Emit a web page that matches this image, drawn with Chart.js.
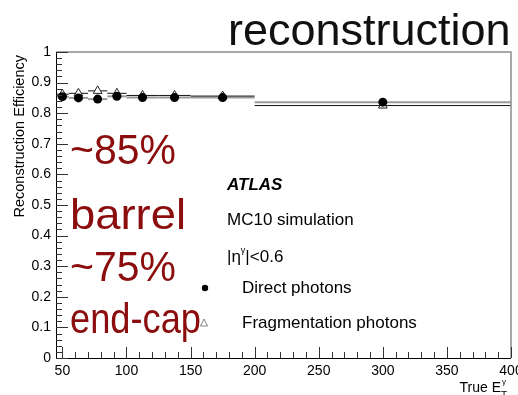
<!DOCTYPE html>
<html>
<head>
<meta charset="utf-8">
<script src="https://cdn.jsdelivr.net/npm/chart.js@4.4.0/dist/chart.umd.min.js"></script>
<style>
  html, body { margin: 0; padding: 0; background: #fff; }
  #wrap { width: 518px; height: 395px; }
</style>
</head>
<body>
<div id="wrap"><canvas id="chart" width="518" height="395"></canvas></div>
<script>
// bins in true photon ET (GeV)
const binCentres = [50, 62.5, 77.5, 92.5, 112.5, 137.5, 175, 300];
const binLow = [45, 55, 70, 85, 100, 125, 150, 200];
const binHigh = [55, 70, 85, 100, 125, 150, 200, 400];

// reconstruction efficiency per bin
const directEff = [0.854, 0.850, 0.846, 0.855, 0.851, 0.851, 0.851, 0.836];
const fragEff = [0.862, 0.865, 0.873, 0.865, 0.858, 0.858, 0.856, 0.825];

// axis ticks
const xTicks = [50, 100, 150, 200, 250, 300, 350, 400];
const yTicks = [0, 0.1, 0.2, 0.3, 0.4, 0.5, 0.6, 0.7, 0.8, 0.9, 1];
const yTickLabels = ['0', '0.1', '0.2', '0.3', '0.4', '0.5', '0.6', '0.7', '0.8', '0.9', '1'];

// overlay text
const bigLines = ['~85%', 'barrel', '~75%', 'end-cap'];
const bigBaselines = [164, 229, 281, 333];
const bigWidths = [106, 116, 106, 131];

const FONT = "'Liberation Sans', Arial, sans-serif";
const RED = '#8b0d0d';

function toPoints(ys) {
    return binCentres.map((x, i) => ({ x: x, y: ys[i] }));
}

// horizontal bin-width bars under the markers
const errorBars = {
    id: 'errorBars',
    beforeDatasetsDraw(chart) {
        const ctx = chart.ctx;
        const xs = chart.scales.x, ys = chart.scales.y;
        ctx.save();
        // direct photons: grey bars
        ctx.strokeStyle = '#9a9a9a';
        ctx.lineWidth = 2;
        directEff.forEach((v, i) => {
            const y = ys.getPixelForValue(v);
            ctx.beginPath();
            ctx.moveTo(xs.getPixelForValue(binLow[i]), y);
            ctx.lineTo(xs.getPixelForValue(binHigh[i]), y);
            ctx.stroke();
        });
        // fragmentation photons: black bars
        ctx.strokeStyle = '#111';
        ctx.lineWidth = 1;
        fragEff.forEach((v, i) => {
            const y = ys.getPixelForValue(v);
            ctx.beginPath();
            ctx.moveTo(xs.getPixelForValue(binLow[i]), y);
            ctx.lineTo(xs.getPixelForValue(binHigh[i]), y);
            ctx.stroke();
        });
        ctx.restore();
    }
};

// ROOT-like frame, inward ticks, labels and all the annotation text
const decorations = {
    id: 'decorations',
    afterDraw(chart) {
        const ctx = chart.ctx;
        const a = chart.chartArea;
        const xs = chart.scales.x, ys = chart.scales.y;
        ctx.save();

        // frame
        ctx.strokeStyle = '#8c8c8c';
        ctx.lineWidth = 1.5;
        ctx.beginPath();
        ctx.moveTo(a.left, a.top);
        ctx.lineTo(a.right, a.top);
        ctx.lineTo(a.right, a.bottom);
        ctx.stroke();
        ctx.strokeStyle = '#000';
        ctx.lineWidth = 1;
        ctx.beginPath();
        ctx.moveTo(a.left + 0.5, a.top);
        ctx.lineTo(a.left + 0.5, a.bottom + 0.5);
        ctx.lineTo(a.right, a.bottom + 0.5);
        ctx.stroke();

        // y ticks
        ctx.strokeStyle = '#333';
        ctx.beginPath();
        for (let k = 0; k <= 50; k++) {
            const y = Math.round(ys.getPixelForValue(k / 50)) + 0.5;
            const len = (k % 5 === 0) ? 12 : 6;
            ctx.moveTo(a.left, y);
            ctx.lineTo(a.left + len, y);
        }
        // x ticks
        for (let v = 50; v <= 400; v += 10) {
            const x = Math.round(xs.getPixelForValue(v)) + 0.5;
            const len = (v % 50 === 0) ? 11 : 6;
            ctx.moveTo(x, a.bottom);
            ctx.lineTo(x, a.bottom - len);
        }
        ctx.stroke();

        // tick labels
        ctx.fillStyle = '#000';
        ctx.font = '14px ' + FONT;
        ctx.textAlign = 'right';
        ctx.textBaseline = 'middle';
        yTicks.forEach((v, i) => {
            ctx.fillText(yTickLabels[i], a.left - 5, ys.getPixelForValue(v));
        });
        ctx.textAlign = 'center';
        ctx.textBaseline = 'alphabetic';
        xTicks.forEach(v => {
            ctx.fillText(String(v), xs.getPixelForValue(v), a.bottom + 17);
        });

        // y title, aligned to the top of the axis
        ctx.save();
        ctx.translate(20, a.top + 3);
        ctx.rotate(-Math.PI / 2);
        ctx.textAlign = 'right';
        ctx.textBaseline = 'middle';
        ctx.font = '14.5px ' + FONT;
        ctx.fillText('Reconstruction Efficiency', 0, 0);
        ctx.restore();

        // x title: True E_T^gamma, right aligned
        ctx.textAlign = 'left';
        ctx.font = '14px ' + FONT;
        const main = 'True E';
        const wMain = ctx.measureText(main).width;
        const x0 = a.right - 2 - 8 - wMain;
        ctx.fillText(main, x0, 392);
        ctx.font = '10px ' + FONT;
        ctx.fillText('T', x0 + wMain, 399);
        ctx.font = '8px ' + FONT;
        ctx.fillText('\u03b3', x0 + wMain + 1, 384);

        // plot title
        ctx.fillStyle = '#111';
        ctx.font = '45px ' + FONT;
        ctx.fillText('reconstruction', 228, 45);

        // legend block
        ctx.fillStyle = '#000';
        ctx.font = 'italic bold 17px ' + FONT;
        ctx.fillText('ATLAS', 227, 190);
        ctx.font = '17px ' + FONT;
        ctx.fillText('MC10 simulation', 227, 225);
        let tx = 227;
        ctx.fillText('|\u03b7', tx, 262);
        tx += ctx.measureText('|\u03b7').width;
        ctx.font = '9px ' + FONT;
        ctx.fillText('\u03b3', tx, 253);
        tx += ctx.measureText('\u03b3').width;
        ctx.font = '17px ' + FONT;
        ctx.fillText('|<0.6', tx, 262);
        ctx.fillText('Direct photons', 242, 293);
        ctx.fillText('Fragmentation photons', 242, 328);

        ctx.beginPath();
        ctx.arc(205, 288, 3.2, 0, Math.PI * 2);
        ctx.fill();
        ctx.strokeStyle = '#666';
        ctx.lineWidth = 0.8;
        ctx.beginPath();
        ctx.moveTo(204, 319);
        ctx.lineTo(207.5, 326);
        ctx.lineTo(200.5, 326);
        ctx.closePath();
        ctx.stroke();

        // big red overlay, squeezed to the reference widths
        ctx.fillStyle = RED;
        ctx.font = '43px ' + FONT;
        bigLines.forEach((t, i) => {
            const w = ctx.measureText(t).width;
            ctx.save();
            ctx.translate(70, bigBaselines[i]);
            ctx.scale(bigWidths[i] / w, 1);
            ctx.fillText(t, 0, 0);
            ctx.restore();
        });

        ctx.restore();
    }
};

new Chart(document.getElementById('chart'), {
    type: 'scatter',
    data: {
        datasets: [
            {
                label: 'Direct photons',
                data: toPoints(directEff),
                pointStyle: 'circle',
                pointRadius: 4.5,
                backgroundColor: '#000',
                borderColor: '#000',
                borderWidth: 0
            },
            {
                label: 'Fragmentation photons',
                data: toPoints(fragEff),
                pointStyle: 'triangle',
                pointRadius: 5,
                backgroundColor: '#fff',
                borderColor: '#222',
                borderWidth: 1
            }
        ]
    },
    options: {
        responsive: false,
        animation: false,
        layout: { padding: { left: 56, top: 52, right: 7, bottom: 37 } },
        plugins: { legend: { display: false }, tooltip: { enabled: false } },
        scales: {
            x: { type: 'linear', min: 45, max: 400, display: false },
            y: { type: 'linear', min: 0, max: 1, display: false }
        }
    },
    plugins: [errorBars, decorations]
});
</script>
</body>
</html>
